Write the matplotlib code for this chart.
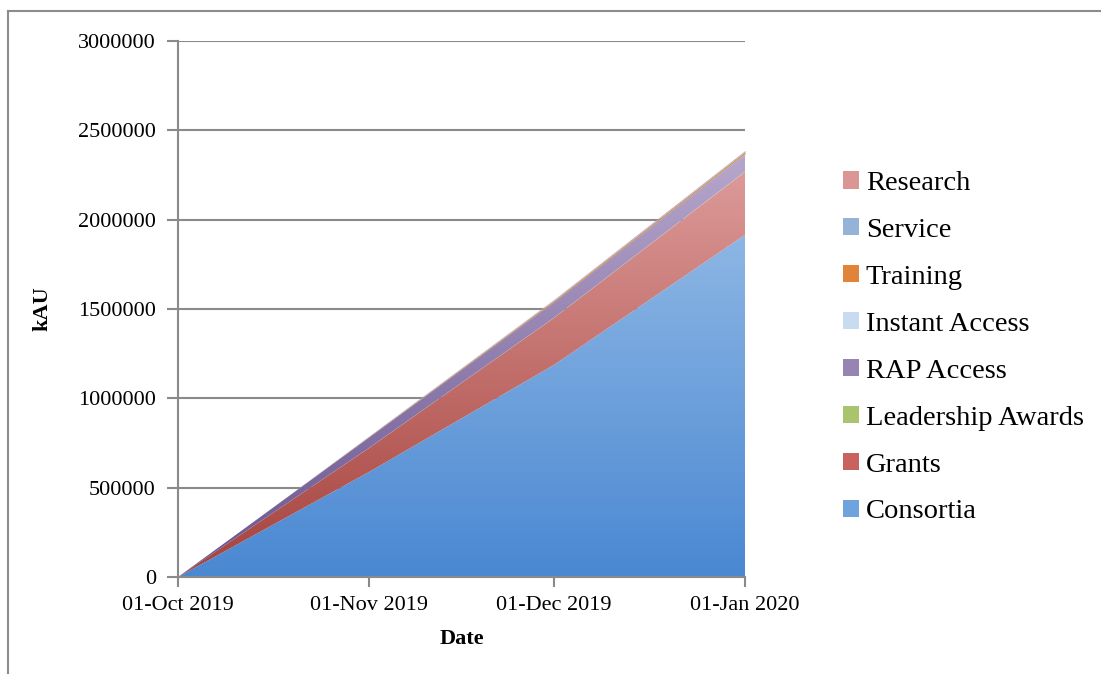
import numpy as np
import matplotlib
matplotlib.use("Agg")
import matplotlib.pyplot as plt
import matplotlib.dates as mdates
from matplotlib.colors import LinearSegmentedColormap
from matplotlib.patches import Patch
from matplotlib.lines import Line2D
import datetime as dt

plt.rcParams['font.family'] = ['Liberation Serif', 'DejaVu Serif']

# cumulative kAU per allocation type, sampled at month starts
dates = [dt.date(2019, 10, 1), dt.date(2019, 11, 1),
         dt.date(2019, 12, 1), dt.date(2020, 1, 1)]
consortia = [0, 588000, 1187000, 1915000]
grants = [0, 134000, 263000, 353000]
leadership = [0, 500, 1000, 1500]
rap_access = [0, 56000, 84000, 95000]
instant_access = [0, 800, 1500, 2000]
training = [0, 7000, 11000, 13000]
service = [0, 3000, 5000, 6000]
research = [0, 800, 1500, 2000]

series = [
    ("Consortia", consortia),
    ("Grants", grants),
    ("Leadership Awards", leadership),
    ("RAP Access", rap_access),
    ("Instant Access", instant_access),
    ("Training", training),
    ("Service", service),
    ("Research", research),
]

# (top colour, bottom colour) for the vertical gradient of each layer
fills = {
    "Consortia": ("#8db6e4", "#4a88d2"),
    "Grants": ("#dc9a98", "#a6423d"),
    "Leadership Awards": ("#c3d69b", "#77933c"),
    "RAP Access": ("#b6a7cc", "#6a5490"),
    "Instant Access": ("#dce6f2", "#4f8fd4"),
    "Training": ("#e8862f", "#e8862f"),
    "Service": ("#95b3d7", "#95b3d7"),
    "Research": ("#d99694", "#d99694"),
}
legend_colors = {
    "Research": "#d99694",
    "Service": "#95b3d7",
    "Training": "#e0843a",
    "Instant Access": "#c8dbf0",
    "RAP Access": "#9884b3",
    "Leadership Awards": "#a9c46e",
    "Grants": "#c9625f",
    "Consortia": "#6ea3de",
}

x = mdates.date2num(dates)

fig = plt.figure(figsize=(11.01, 6.74), dpi=100)
ax = fig.add_axes([178 / 1101, 1 - 577 / 674, (745 - 178) / 1101, (577 - 41) / 674])

grid_gray = "#8a8a8a"
ax.set_axisbelow(True)
ax.yaxis.grid(True, color=grid_gray, linewidth=1.5)

base = np.zeros(len(x))
for name, vals in series:
    top = base + np.array(vals, dtype=float)
    poly = ax.fill_between(x, base, top, color=fills[name][0], linewidth=0, zorder=2)
    c_top, c_bot = fills[name]
    if c_top != c_bot:
        cmap = LinearSegmentedColormap.from_list(name, [c_bot, c_top])
        grad = np.linspace(0, 1, 256).reshape(-1, 1)
        img = ax.imshow(grad, cmap=cmap, origin="lower", aspect="auto",
                        extent=(x[0], x[-1], base.min(), top.max()), zorder=2.1)
        img.set_clip_path(poly.get_paths()[0], transform=ax.transData)
        poly.set_visible(False)
    base = top

ax.set_xlim(x[0], x[-1])
ax.set_ylim(0, 3000000)
ax.set_yticks(np.arange(0, 3000001, 500000))
ax.set_yticklabels([str(v) for v in range(0, 3000001, 500000)])
ax.set_xticks(x)
ax.set_xticklabels([d.strftime("%d-%b %Y") for d in dates])

for side in ("top", "right"):
    ax.spines[side].set_visible(False)
for side in ("left", "bottom"):
    ax.spines[side].set_color(grid_gray)
    ax.spines[side].set_linewidth(1.5)
ax.tick_params(axis="y", length=8, width=1.5, color=grid_gray, pad=8, labelsize=16)
ax.tick_params(axis="x", length=7, width=1.5, color=grid_gray, pad=7, labelsize=16)

ax.set_ylabel("kAU", fontsize=16, fontweight="bold", labelpad=18)
ax.set_xlabel("Date", fontsize=16, fontweight="bold", labelpad=10)

handles = [Patch(facecolor=legend_colors[n], edgecolor="none", label=n)
           for n, _ in reversed(series)]
fig.legend(handles=handles, loc="upper left", bbox_to_anchor=(843 / 1101, 1 - 171 / 674),
           frameon=False, fontsize=20.5, handlelength=0.55, handleheight=0.55,
           handletextpad=0.25, labelspacing=0.77, borderpad=0, borderaxespad=0)

# outer chart frame
fig.add_artist(Line2D([8 / 1101, 8 / 1101], [0, 1 - 11 / 674], transform=fig.transFigure,
                      color="#8c8c8c", linewidth=1.5))
fig.add_artist(Line2D([8 / 1101, 1], [1 - 11 / 674, 1 - 11 / 674], transform=fig.transFigure,
                      color="#8c8c8c", linewidth=1.5))

fig.savefig("out.png", dpi=100)
